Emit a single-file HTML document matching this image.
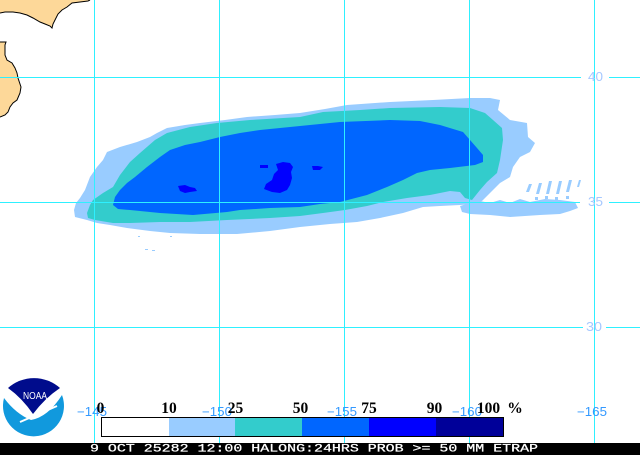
<!DOCTYPE html>
<html><head><meta charset="utf-8"><style>
html,body{margin:0;padding:0;background:#fff;}
svg{display:block;}
</style></head><body>
<svg width="640" height="455" viewBox="0 0 640 455" xmlns="http://www.w3.org/2000/svg">
<rect width="640" height="455" fill="#fff"/>
<!-- land -->
<path d="M0,0 L90,0 L88,1 L80,2 L72,3 L67,7 L62,10 L58,14 L55,20 L53,24 L52,28 L50,26 L45,24 L40,22 L33,18 L27,15 L20,13 L13,12 L5,12 L0,13 Z" fill="#fdd899"/>
<polyline points="90,0 88,1 80,2 72,3 67,7 62,10 58,14 55,20 53,24 52,28 50,26 45,24 40,22 33,18 27,15 20,13 13,12 5,12 0,13" fill="none" stroke="#000" stroke-width="1"/>
<path d="M0,42 L6,42 L5,45 L5,55 L7,60 L12,63 L15,68 L17,73 L18,78 L21,87 L20,93 L17,100 L13,103 L10,107 L8,112 L5,115 L0,117 Z" fill="#fdd899"/>
<polyline points="0,42 6,42 5,45 5,55 7,60 12,63 15,68 17,73 18,78 21,87 20,93 17,100 13,103 10,107 8,112 5,115 0,117" fill="none" stroke="#000" stroke-width="1"/>

<!-- light blue outer -->
<path d="M74,210 L76,203 L80,198 L85,190 L90,177 L97,167 L103,160 L107,152 L120,147 L137,142 L150,137 L157,133 L167,128 L185,125 L200,123 L225,120 L247,117 L275,115 L300,113 L325,109 L347,105 L390,102 L433,100 L470,98 L490,98 L500,100 L498,110 L510,120 L527,123 L528,137 L535,143 L530,152 L520,157 L513,167 L510,177 L500,183 L490,193 L482,201 L475,204 L460,205 L440,206 L423,207 L403,213 L380,218 L357,222 L330,224 L300,227 L270,231 L237,234 L200,234 L170,233 L150,231 L127,228 L110,225 L97,223 L87,220 L75,217 Z" fill="#99ccff"/>
<!-- right band and streaks -->
<path d="M460,206 L470,203 L480,201 L490,203 L500,200 L510,203 L520,199 L530,202 L545,199 L560,200 L575,202 L578,208 L570,211 L560,214 L540,215 L510,217 L490,215 L470,214 L462,212 Z" fill="#99ccff"/>
<g fill="#99ccff">
<path d="M529,184 L532,184 L529,192 L526,192 Z"/>
<path d="M539,183 L542,183 L539,194 L536,194 Z"/>
<path d="M549,181 L552,181 L549,194 L546,194 Z"/>
<path d="M559,181 L562,181 L559,194 L556,194 Z"/>
<path d="M569,180 L572,180 L569,192 L566,192 Z"/>
<path d="M579,180 L581,180 L579,187 L577,187 Z"/>
<rect x="535" y="197" width="3" height="3"/>
<rect x="545" y="196" width="3" height="3"/>
<rect x="555" y="197" width="3" height="3"/>
<rect x="566" y="196" width="3" height="3"/>
<rect x="145" y="249" width="3" height="1"/>
<rect x="152" y="250" width="3" height="1"/>
<rect x="138" y="236" width="2" height="1"/>
<rect x="170" y="236" width="2" height="1"/>
</g>
<!-- teal -->
<path d="M87,213 L90,205 L93,200 L103,193 L113,187 L120,175 L130,162 L140,153 L155,140 L167,133 L190,127 L217,123 L250,120 L300,117 L323,112 L360,110 L390,108 L440,107 L470,108 L485,113 L493,120 L502,128 L503,140 L500,160 L497,173 L487,182 L480,190 L472,200 L465,198 L460,192 L450,191 L430,195 L407,198 L383,202 L367,206 L345,210 L323,213 L300,216 L270,218 L227,220 L190,222 L160,222 L130,223 L113,223 L95,220 L88,218 Z" fill="#33cccc"/>
<!-- blue -->
<path d="M113,205 L115,197 L120,190 L127,183 L135,177 L147,167 L160,157 L170,150 L185,145 L200,142 L220,137 L240,133 L260,130 L300,126 L340,122 L390,120 L420,121 L440,125 L463,132 L470,140 L477,148 L483,155 L483,162 L475,165 L450,168 L430,170 L417,173 L403,180 L387,187 L367,195 L340,202 L320,204 L300,207 L270,208 L240,210 L227,212 L193,215 L160,213 L130,210 L118,209 Z" fill="#0066ff"/>
<!-- bright blue spots -->
<g fill="#0000ff">
<path d="M178,186 L185,185 L190,187 L195,188 L197,191 L190,192 L185,193 L180,191 Z"/>
<path d="M276,164 L283,162 L290,163 L293,167 L291,172 L292,178 L290,185 L287,190 L280,193 L272,192 L264,189 L266,184 L272,180 L274,174 L278,170 Z"/>
<path d="M312,166 L318,166 L323,167 L320,170 L313,170 Z"/>
<rect x="260" y="165" width="8" height="3"/>
</g>

<!-- grid -->
<g stroke="#2ef0ff" stroke-width="1" fill="none">
<line x1="94.5" y1="0" x2="94.5" y2="443"/>
<line x1="219.5" y1="0" x2="219.5" y2="443"/>
<line x1="344.5" y1="0" x2="344.5" y2="443"/>
<line x1="469.5" y1="0" x2="469.5" y2="443"/>
<line x1="594.5" y1="0" x2="594.5" y2="443"/>
<line x1="0" y1="77.5" x2="581" y2="77.5"/>
<line x1="609" y1="77.5" x2="640" y2="77.5"/>
<line x1="0" y1="202.5" x2="580" y2="202.5"/>
<line x1="609" y1="202.5" x2="640" y2="202.5"/>
<line x1="0" y1="327.5" x2="583" y2="327.5"/>
<line x1="606" y1="327.5" x2="640" y2="327.5"/>
</g>

<!-- lat labels -->
<g font-family="Liberation Sans, sans-serif" font-size="12.5" fill="#a6c8ff">
<text x="588" y="81" textLength="15" lengthAdjust="spacingAndGlyphs">40</text>
<text x="588" y="206" textLength="15" lengthAdjust="spacingAndGlyphs">35</text>
<text x="586" y="331" textLength="16" lengthAdjust="spacingAndGlyphs">30</text>
</g>

<!-- NOAA logo -->
<path d="M4,398 Q16,414 31,420 Q48,417 62,395 A30.5,30.5 0 1 1 4,398 Z" fill="#1199dd"/>
<path d="M8,388 A39,39 0 0 1 60,388 Q45,398 33,414 Q22,398 8,388 Z" fill="#000c8c"/>
<path d="M20,422 L57,406" stroke="#fff" stroke-width="2" fill="none"/>
<text x="23" y="399" font-family="Liberation Sans, sans-serif" font-size="10" fill="#fff" textLength="24" lengthAdjust="spacingAndGlyphs">NOAA</text>

<!-- lon labels -->
<g font-family="Liberation Sans, sans-serif" font-size="12.5" fill="#3399ff">
<text x="77" y="416" textLength="30" lengthAdjust="spacingAndGlyphs">−145</text>
<text x="202" y="416" textLength="30" lengthAdjust="spacingAndGlyphs">−150</text>
<text x="327" y="416" textLength="30" lengthAdjust="spacingAndGlyphs">−155</text>
<text x="452" y="416" textLength="30" lengthAdjust="spacingAndGlyphs">−160</text>
<text x="577" y="416" textLength="30" lengthAdjust="spacingAndGlyphs">−165</text>
</g>

<!-- legend bar -->
<rect x="101" y="418" width="68" height="19" fill="#fff"/>
<rect x="169" y="418" width="66" height="19" fill="#99ccff"/>
<rect x="235" y="418" width="67" height="19" fill="#33cccc"/>
<rect x="302" y="418" width="67" height="19" fill="#0066ff"/>
<rect x="369" y="418" width="67" height="19" fill="#0000ff"/>
<rect x="436" y="418" width="68" height="19" fill="#000099"/>
<rect x="101.5" y="417.5" width="402" height="19" fill="none" stroke="#000" stroke-width="1"/>

<!-- legend labels -->
<g font-family="Liberation Serif, serif" font-size="15.5" font-weight="bold" fill="#000" text-anchor="middle">
<text x="100.5" y="413">0</text>
<text x="169" y="413">10</text>
<text x="235.5" y="413">25</text>
<text x="300.5" y="413">50</text>
<text x="369" y="413">75</text>
<text x="434.5" y="413">90</text>
<text x="488.5" y="413">100</text>
<text x="515" y="413">%</text>
</g>

<!-- bottom bar -->
<rect x="0" y="443" width="640" height="12" fill="#000"/>
<text x="90" y="451.5" font-family="Liberation Mono, monospace" font-size="11" fill="#fff" stroke="#fff" stroke-width="0.25" textLength="448" lengthAdjust="spacingAndGlyphs" xml:space="preserve">9 OCT 25282 12:00 HALONG:24HRS PROB &gt;= 50 MM ETRAP</text>
</svg>
</body></html>
